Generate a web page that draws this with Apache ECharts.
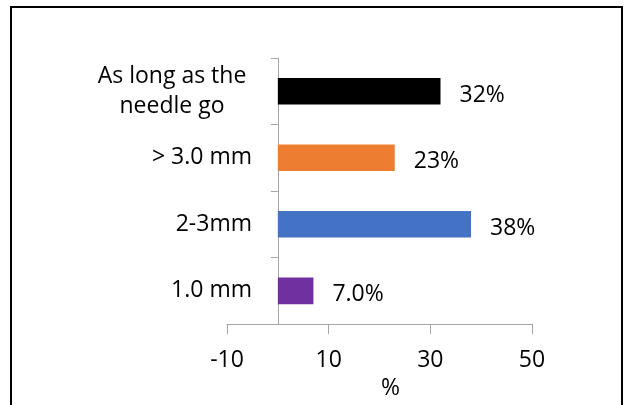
<!DOCTYPE html>
<html>
<head>
<meta charset="utf-8">
<script src="https://cdn.jsdelivr.net/npm/echarts@6/dist/echarts.min.js"></script>
<style>
  html, body { margin: 0; padding: 0; background: #fff; }
  #main { width: 625px; height: 405px; }
</style>
</head>
<body>
<div id="main"></div>
<script>
  // categories, bottom to top like the excel chart
  const categories = ['1.0 mm', '2-3mm', '> 3.0 mm', 'As long as the\nneedle go'];
  const values = [7, 38, 23, 32];
  const valueLabels = ['7.0%', '38%', '23%', '32%'];
  const barColors = ['#7030A0', '#4472C4', '#ED7D31', '#000000'];
  const xTicks = [-10, 10, 30, 50];

  const FONT = 'Open Sans';
  const FS = 23;
  const myChart = echarts.init(document.getElementById('main'));

  const option = {
    animation: false,
    textStyle: { fontFamily: FONT },
    graphic: [{
      type: 'rect',
      shape: { x: 11, y: 7, width: 611, height: 420 },
      style: { fill: 'none', stroke: '#000', lineWidth: 2 }
    }],
    grid: { left: 227, right: 93, top: 58, bottom: 78 },
    xAxis: {
      type: 'value',
      min: xTicks[0],
      max: xTicks[xTicks.length - 1],
      interval: 20,
      name: '%',
      nameLocation: 'middle',
      nameGap: 49,
      nameTextStyle: { color: '#000', fontSize: FS, fontFamily: FONT, padding: [0, 0, 0, 22] },
      axisLine: { show: true, lineStyle: { color: '#a6a6a6', width: 1 } },
      axisTick: { show: true, length: 10, lineStyle: { color: '#a6a6a6' } },
      axisLabel: { color: '#000', fontSize: FS, fontFamily: FONT, margin: 25 },
      splitLine: { show: false }
    },
    yAxis: {
      type: 'category',
      data: categories.map(function (c, i) {
        if (i === categories.length - 1) {
          // two-line label is centered in excel
          return { value: c, textStyle: { align: 'center', padding: [4, 160, 0, 0], lineHeight: 30 } };
        }
        return c;
      }),
      axisLine: { show: true, onZero: true, lineStyle: { color: '#a6a6a6', width: 1 } },
      axisTick: { show: true, length: 7, lineStyle: { color: '#a6a6a6' } },
      // labels stay at the grid edge, so pull them over to the zero line
      axisLabel: { color: '#000', fontSize: FS, fontFamily: FONT, margin: -25, padding: [4, 0, 0, 0] }
    },
    series: [{
      type: 'bar',
      barWidth: '40%',
      data: values.map(function (v, i) {
        return { value: v, itemStyle: { color: barColors[i] } };
      }),
      label: {
        show: true,
        position: 'right',
        distance: 19,
        offset: [0, 4],
        color: '#000',
        fontSize: FS,
        fontFamily: FONT,
        formatter: function (p) { return valueLabels[p.dataIndex]; }
      }
    }]
  };

  myChart.setOption(option);
</script>
</body>
</html>
